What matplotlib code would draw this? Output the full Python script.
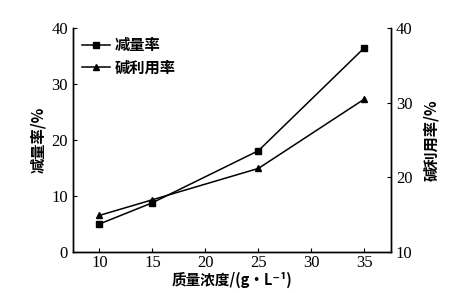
import matplotlib
matplotlib.use("Agg")
import matplotlib.pyplot as plt

conc = [10, 15, 25, 35]
reduction = [5.0, 8.8, 18.1, 36.5]
alkali_use = [14.9, 17.0, 21.2, 30.5]
xticks = [10, 15, 20, 25, 30, 35]
left_ticks = [0, 10, 20, 30, 40]
right_ticks = [10, 20, 30, 40]

fam = ['Liberation Serif', 'Noto Sans CJK SC', 'DejaVu Sans']
cjk = ['Noto Sans CJK SC', 'Liberation Serif', 'DejaVu Sans']
plt.rcParams['font.family'] = fam

fig = plt.figure(figsize=(4.53, 2.93), dpi=100)
ax = fig.add_axes([0.161, 0.140, 0.702, 0.764])
ax2 = ax.twinx()

l1, = ax.plot(conc, reduction, color='black', lw=1.1, marker='s', ms=4.5, label='减量率')
l2, = ax2.plot(conc, alkali_use, color='black', lw=1.1, marker='^', ms=5, label='碱利用率')

ax.set_xlim(7.5, 37.5)
ax.set_ylim(0, 40)
ax2.set_ylim(10, 40)
ax.set_xticks(xticks)
ax.set_yticks(left_ticks)
ax2.set_yticks(right_ticks)

for a in (ax, ax2):
    a.spines['top'].set_visible(False)
    a.tick_params(direction='in', length=3, width=0.8, labelsize=12)
    for s in a.spines.values():
        s.set_linewidth(1.0)
ax.tick_params(axis='x', pad=2)

ax.set_ylabel('减量率/%', fontsize=11, fontweight='bold', family=cjk, labelpad=4)
ax2.set_ylabel('碱利用率/%', fontsize=11, fontweight='bold', family=cjk, rotation=90, labelpad=8)
ax.set_xlabel('质量浓度/(g·L⁻¹)', fontsize=10.5, fontweight='bold', family=cjk, labelpad=1)

leg = ax.legend(handles=[l1, l2], loc='upper left', frameon=False,
                prop={'family': cjk, 'weight': 'bold', 'size': 11},
                handlelength=1.8, handletextpad=0.3, borderaxespad=0.2, labelspacing=0.4)

fig.savefig('out.png', dpi=100)
